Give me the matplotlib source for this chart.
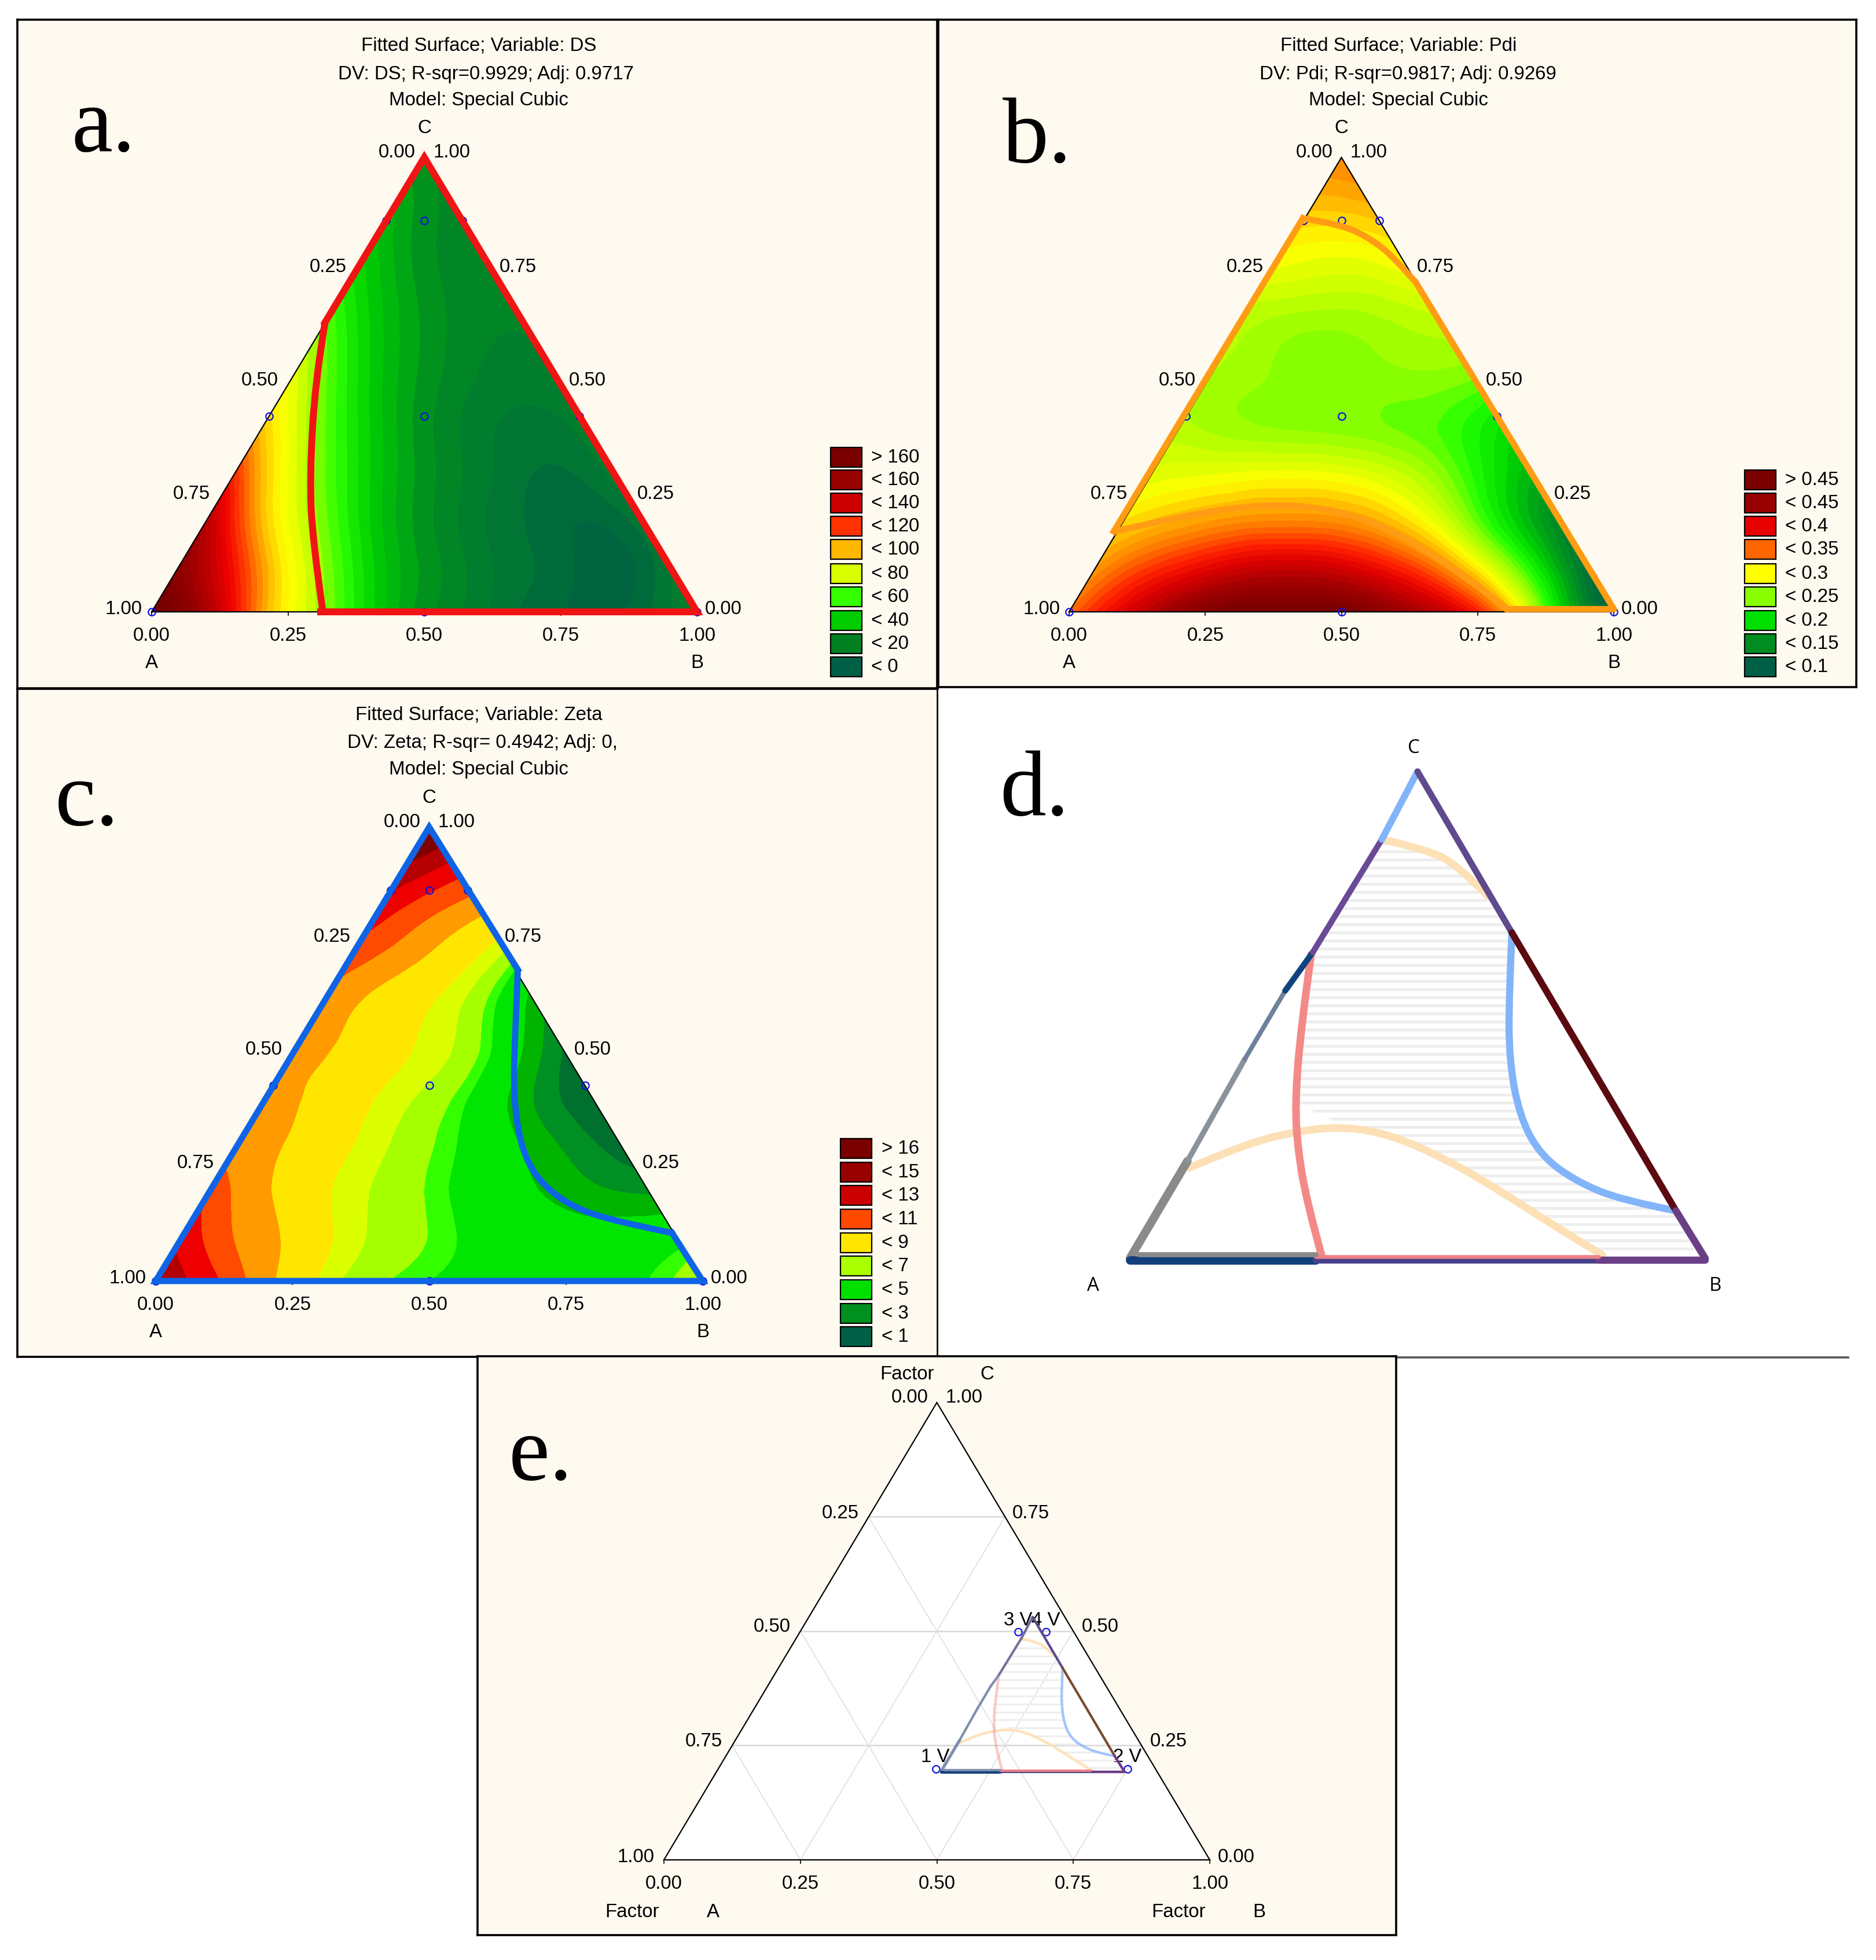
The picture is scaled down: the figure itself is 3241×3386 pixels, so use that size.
import matplotlib
matplotlib.use('Agg')
import matplotlib.pyplot as plt
import matplotlib.tri as mtri
import numpy as np
from matplotlib.colors import LinearSegmentedColormap, Normalize
from matplotlib.patches import PathPatch, Rectangle
from matplotlib.path import Path

W, H = 3241, 3386

# surface values, one row per c = 0, 0.1, ... 1.0
DS_ROWS = [
    [190, 160, 105, 70, 42, 22, 12, 3, -2, 3, 15],
    [172, 130, 85, 55, 31, 18, 8, 2, -3, 10],
    [155, 100, 66, 40, 22, 11, 4, 0, 8],
    [125, 80, 52, 30, 17, 8, 4, 12],
    [98, 65, 40, 22, 12, 8, 12],
    [80, 52, 30, 18, 12, 13],
    [66, 40, 24, 16, 15],
    [50, 30, 19, 16],
    [38, 22, 17],
    [29, 18],
    [20],
]
PDI_ROWS = [
    [.36, .42, .47, .50, .50, .50, .47, .43, .34, .195, .10],
    [.34, .38, .41, .43, .43, .41, .37, .30, .21, .12],
    [.31, .33, .345, .35, .345, .32, .27, .20, .14],
    [.285, .29, .295, .295, .285, .26, .215, .17],
    [.265, .255, .25, .247, .24, .225, .195],
    [.258, .25, .245, .245, .245, .235],
    [.262, .25, .248, .255, .26],
    [.275, .27, .27, .28],
    [.30, .295, .305],
    [.325, .33],
    [.35],
]
ZETA_ROWS = [
    [15.5, 13.5, 10.5, 7.8, 6.2, 5.5, 5, 4.8, 5, 5.5, 7],
    [14, 11.3, 9.6, 7.5, 6.4, 5.5, 4.8, 4.5, 4.6, 5],
    [12.5, 10.2, 8.4, 6.9, 5.9, 4.8, 4, 3.2, 2.8],
    [10.8, 9.8, 8.2, 6.7, 5.5, 4.2, 2.8, 1.5],
    [10.5, 9.6, 8, 6.6, 4.9, 2.8, 1],
    [10.4, 9.6, 8.2, 6.8, 4.5, 1.8],
    [11, 9.4, 8, 6, 3.3],
    [12, 10.4, 8.6, 6],
    [13.5, 11.5, 9.8],
    [15.5, 13.5],
    [18],
]

DESIGN_X = [0, 1, .5, .215, .5, .785, .43, .5, .57]
DESIGN_C = [0, 0, 0, .431, .431, .431, .861, .861, .861]

DS_LEGEND = ['> 160', '< 160', '< 140', '< 120', '< 100', '< 80', '< 60', '< 40', '< 20', '< 0']
PDI_LEGEND = ['> 0.45', '< 0.45', '< 0.4', '< 0.35', '< 0.3', '< 0.25', '< 0.2', '< 0.15', '< 0.1']
ZETA_LEGEND = ['> 16', '< 15', '< 13', '< 11', '< 9', '< 7', '< 5', '< 3', '< 1']

# desirability outlines, (X, c) in the triangle plane
DS_CURVE = [(.318, .637), (.30, .51), (.29, .30), (.295, .158), (.314, 0)]
PDI_TOP = [(.429, .866), (.499, .853), (.556, .820), (.599, .777), (.637, .724)]
PDI_LOW = [(.805, .006), (.735, .072), (.626, .158), (.518, .216), (.41, .237),
           (.301, .230), (.193, .206), (.082, .177)]
ZETA_CURVE = [(.944, .106), (.838, .132), (.762, .163), (.708, .211), (.676, .269),
              (.66, .345), (.654, .441), (.657, .537), (.662, .686)]

PINK = [(.315, .624), (.297, .472), (.287, .320), (.292, .222), (.308, .114), (.333, .007)]
BLUE = [(.664, .669), (.659, .544), (.659, .410), (.677, .293), (.713, .213),
        (.774, .159), (.856, .119), (.949, .098)]
ORANGE_TOP = [(.438, .861), (.518, .839), (.569, .808), (.622, .745)]
ORANGE_LOW = [(.103, .186), (.2, .235), (.292, .262), (.374, .271), (.456, .253),
              (.549, .204), (.641, .141), (.733, .07), (.821, .007)]

E_POINT_X = [.498, .849, .649, .70]
E_POINT_C = [.199, .199, .499, .499]
E_POINT_LABEL = ['1 V', '2 V', '3 V', '4 V']
E_LABEL_X = [.497, .849, .649, .70]
E_LABEL_C = [.225, .225, .524, .524]

# style
CREAM = '#fffaf0'
LABEL_PX = 33
FS = LABEL_PX * 0.72
FONT = 'Liberation Sans'
SERIF = 'Liberation Serif'

DS_ANCH = [(-10, '#005f46'), (0, '#00663e'), (10, '#007a30'), (20, '#008a20'), (30, '#00b010'),
           (40, '#00d000'), (55, '#2cff00'), (65, '#90ff00'), (75, '#e0ff00'), (85, '#ffff00'),
           (100, '#ffb700'), (120, '#ff3c00'), (135, '#f00000'), (150, '#c40000'),
           (170, '#900000'), (190, '#700000')]
PDI_ANCH = [(.08, '#005f46'), (.10, '#006046'), (.13, '#007a30'), (.16, '#00a018'), (.19, '#00d800'),
            (.22, '#20ff00'), (.245, '#88ff00'), (.27, '#c8ff00'), (.30, '#ffff00'), (.33, '#ffb000'),
            (.36, '#ff7000'), (.39, '#ff2000'), (.42, '#e00000'), (.46, '#a00000'), (.50, '#780000')]
ZETA_LEVELS = [1, 2, 3, 4, 5.5, 6, 7, 8, 10, 11.5, 13, 14.5, 16]
ZETA_COLORS = ['#006046', '#00702e', '#008f22', '#00b400', '#00e600', '#33ff00', '#a6ff00',
               '#dcff00', '#ffe600', '#ff9b00', '#ff4b00', '#ee0000', '#b40000', '#800000']
DS_SWATCH = ['#7a0000', '#990000', '#cc0000', '#ff3300', '#ffb700', '#d8ff00', '#33ff00',
             '#00cc00', '#008020', '#006046']
PDI_SWATCH = ['#7a0000', '#990000', '#e60000', '#ff6600', '#ffff00', '#88ff00', '#00e000',
              '#008c20', '#006046']
ZETA_SWATCH = ['#7a0000', '#990000', '#cc0000', '#ff4800', '#ffe600', '#aaff00', '#00e000',
               '#009020', '#006046']


def panel(rect, tri_box, face=CREAM):
    x0, y0, x1, y1 = rect
    ax_, bx, ty, ay = tri_box
    ax = fig.add_axes([x0 / W, 1 - y1 / H, (x1 - x0) / W, (y1 - y0) / H])
    ax.set_xlim((x0 - ax_) / (bx - ax_), (x1 - ax_) / (bx - ax_))
    ax.set_ylim((ay - y1) / (ay - ty), (ay - y0) / (ay - ty))
    ax.set_xticks([])
    ax.set_yticks([])
    ax.set_facecolor(face)
    for sp in ax.spines.values():
        sp.set_linewidth(2.6)
        sp.set_color('black')
    return ax


def lattice(rows):
    xs, cs, zs = [], [], []
    for k, row in enumerate(rows):
        for j, v in enumerate(row):
            xs.append(k / 20 + j / 10)
            cs.append(k / 10)
            zs.append(v)
    return mtri.Triangulation(xs, cs), np.array(zs, dtype=float)


def surface(ax, rows, **kw):
    tri, z = lattice(rows)
    fine, zf = mtri.UniformTriRefiner(tri).refine_field(z, subdiv=4)
    ax.tricontourf(fine, zf, zorder=1, extend='both', **kw)


def anchored_map(anchors):
    lo, hi = anchors[0][0], anchors[-1][0]
    cmap = LinearSegmentedColormap.from_list('m', [((v - lo) / (hi - lo), c) for v, c in anchors])
    return cmap, Normalize(lo, hi)


def smooth(ax, pts, color, lw, zorder=5, alpha=1.0, cap='round'):
    verts = [pts[0]]
    codes = [Path.MOVETO]
    for i in range(1, len(pts) - 1):
        mid = ((pts[i][0] + pts[i + 1][0]) / 2, (pts[i][1] + pts[i + 1][1]) / 2)
        if i == len(pts) - 2:
            mid = pts[-1]
        verts += [pts[i], mid]
        codes += [Path.CURVE3, Path.CURVE3]
    ax.add_patch(PathPatch(Path(verts, codes), fill=False, edgecolor=color, lw=lw, zorder=zorder,
                           alpha=alpha, capstyle=cap, joinstyle='round'))


def frame(ax, factor=False):
    ax.plot([0, 1, .5, 0], [0, 0, 1, 0], color='black', lw=1.6, zorder=3, solid_joinstyle='miter')
    names = ['0.00', '0.25', '0.50', '0.75', '1.00']
    for t, s in zip([0, .25, .5, .75, 1], names):
        ax.text(t, -.053, s, ha='center', va='center', fontsize=FS, family=FONT)
        ax.plot([t, t], [0, -.008], color='black', lw=1.2, zorder=3, clip_on=False)
    left = [(.323, .758, '0.25'), (.198, .509, '0.50'), (.073, .259, '0.75'), (-.051, .006, '1.00')]
    right = [(.672, .758, '0.75'), (.799, .509, '0.50'), (.924, .259, '0.25'), (1.048, .006, '0.00')]
    for x, c, s in left + right:
        ax.text(x, c, s, ha='center', va='center', fontsize=FS, family=FONT)
    ax.text(.45, 1.011, '0.00', ha='center', va='center', fontsize=FS, family=FONT)
    ax.text(.55, 1.011, '1.00', ha='center', va='center', fontsize=FS, family=FONT)
    if factor:
        for x, c, s in [(.445, 1.061, 'Factor'), (.592, 1.061, 'C'), (-.058, -.114, 'Factor'),
                        (.09, -.114, 'A'), (.943, -.114, 'Factor'), (1.09, -.114, 'B')]:
            ax.text(x, c, s, ha='center', va='center', fontsize=FS, family=FONT)
    else:
        ax.text(.5, 1.064, 'C', ha='center', va='center', fontsize=FS, family=FONT)
        ax.text(0, -.113, 'A', ha='center', va='center', fontsize=FS, family=FONT)
        ax.text(1, -.113, 'B', ha='center', va='center', fontsize=FS, family=FONT)


def design(ax):
    ax.plot(DESIGN_X, DESIGN_C, ls='none', marker='o', ms=9, mfc='none', mec='#1010e0', mew=1.6,
            zorder=4, clip_on=False)


def legend(x0, x_text, rows_y, labels, swatches):
    for y, s, c in zip(rows_y, labels, swatches):
        ov.add_patch(Rectangle((x0, y - 17), 54, 34, facecolor=c, edgecolor='black', lw=1.6))
        ov.text(x_text, y, s, ha='left', va='center', fontsize=FS, family=FONT)


def composite(ax, origin_x, origin_c, wx, wc, k, zorder=6):
    # the overlaid region of panel d, also pasted small into panel e
    small = k < 1

    def m(pts):
        return [(origin_x + p[0] * wx, origin_c + p[1] * wc) for p in pts]

    region = Path(m(ORANGE_TOP + [(.664, .669)] + BLUE + [(.985, .007), (.821, .007)]
                    + ORANGE_LOW[::-1][:6] + PINK[:3][::-1] + [(.315, .624), (.438, .861)]))
    clip = PathPatch(region, transform=ax.transData, fc='none', ec='none')
    ax.add_patch(clip)
    gap = 14 / 841 if not small else 0.052
    for c in np.arange(.02, .88, gap):
        ln, = ax.plot([origin_x, origin_x + wx], [origin_c + c * wc] * 2, color='#eeeeee',
                      lw=3.6 * k ** .5, zorder=zorder - 1)
        ln.set_clip_path(clip)

    lw = 10.5 * k
    fade = .6 if small else 1.0
    smooth(ax, m(ORANGE_LOW), '#fde0b6', lw * .9, zorder, alpha=max(fade, .9))
    smooth(ax, m(ORANGE_TOP), '#fde0b6', lw * .9, zorder, alpha=max(fade, .9))
    smooth(ax, m(BLUE), '#82b4fa', lw * .85, zorder + 1, alpha=fade + .15 if small else 1.0)
    smooth(ax, m(PINK), '#f48a88', lw * .9, zorder + 1, alpha=.45 if small else 1.0)
    segs = [
        ((0, 0), (.1, .2), '#8a8a8a', 1.0), ((.1, .2), (.2, .41), '#8b929c', .65),
        ((.2, .41), (.27, .55), '#6f829c', .55), ((.27, .55), (.318, .629), '#0f437e', .7),
        ((.318, .629), (.438, .861), '#6a4a96', .7), ((.438, .861), (.5, 1), '#82b4fa', .8),
        ((.5, 1), (.664, .669), '#5e4a8c', .75), ((.664, .669), (.949, .098), '#5a0a10', .8),
        ((.949, .098), (1, 0), '#6b3f86', .85), ((0, -.004), (.323, -.004), '#123f7c', 1.0),
        ((.323, -.004), (.815, -.004), '#46408a', .8), ((.815, -.004), (1, -.004), '#6b3f86', .85),
        ((.323, .004), (.815, .004), '#ee7f86', .45), ((.015, .008), (.323, .008), '#8a8a8a', .6),
    ]
    for a, b, col, f in segs:
        p = m([a, b])
        if small:
            # the pasted copy is washed out: brown right edge, blue-grey left edge
            col = {'#5a0a10': '#7a4a30', '#8a8a8a': '#7f8fae', '#8b929c': '#7f8fae',
                   '#6f829c': '#7f8fae', '#0f437e': '#7f8fae', '#6a4a96': '#7a7096',
                   '#82b4fa': '#6f6a96'}.get(col, col)
            f = max(f, .8)
        ax.plot([p[0][0], p[1][0]], [p[0][1], p[1][1]], color=col, lw=lw * f, zorder=zorder + 2,
                solid_capstyle='round')


fig = plt.figure(figsize=(W / 100 + 1e-6, H / 100 + 1e-6), dpi=100, facecolor='white')

# a. DS
ax_a = panel((30, 34, 1619, 1189), (262, 1204, 272, 1057))
cmap, norm = anchored_map(DS_ANCH)
surface(ax_a, DS_ROWS, levels=np.arange(-10, 195, 5), cmap=cmap, norm=norm)
frame(ax_a)
design(ax_a)
smooth(ax_a, DS_CURVE, '#f01414', 8.6)
ax_a.plot([.31, 1, .5, .318], [0, 0, 1, .637], color='#f01414', lw=8.6, zorder=5,
          solid_joinstyle='miter')

# b. Pdi
ax_b = panel((1621, 34, 3207, 1187), (1847, 2788, 272, 1057))
cmap, norm = anchored_map(PDI_ANCH)
surface(ax_b, PDI_ROWS, levels=np.arange(.08, .505, .01), cmap=cmap, norm=norm)
frame(ax_b)
design(ax_b)
smooth(ax_b, PDI_TOP, '#ff9c14', 7.8)
smooth(ax_b, PDI_LOW, '#ff9c14', 7.8)
ax_b.plot([.637, 1, .805], [.724, .006, .006], color='#ff9c14', lw=7.8, zorder=5)
ax_b.plot([.082, .429], [.177, .866], color='#ff9c14', lw=7.8, zorder=5)

# c. Zeta
ax_c = panel((30, 1190, 1620, 2344), (269, 1214, 1429, 2213))
surface(ax_c, ZETA_ROWS, levels=ZETA_LEVELS, colors=ZETA_COLORS)
frame(ax_c)
design(ax_c)
smooth(ax_c, ZETA_CURVE, '#0f64e6', 7.8)
ax_c.plot([.662, .5, 0, 1, .944], [.686, 1, 0, 0, .106], color='#0f64e6', lw=7.8, zorder=5,
          solid_joinstyle='miter')

# d. overlay of the three windows
ax_d = panel((1621, 1191, 3193, 2345), (1952, 2946, 1333, 2174), face='white')
for name, sp in ax_d.spines.items():
    sp.set_visible(name == 'bottom')
ax_d.spines['bottom'].set_color('#555555')
composite(ax_d, 0, 0, 1, 1, 1.0)

# e. position of the window in the full simplex
ax_e = panel((825, 2343, 2412, 3343), (1147, 2090, 2423, 3213))
ax_e.fill([0, 1, .5], [0, 0, 1], color='white', zorder=1)
for t in [.25, .5, .75]:
    ax_e.plot([t / 2, 1 - t / 2], [t, t], color='#d8d8d8', lw=1.8, zorder=2)
    ax_e.plot([t, t + (1 - t) / 2], [0, 1 - t], color='#dcdcdc', lw=1.1, zorder=2)
    ax_e.plot([1 - t, (1 - t) / 2], [0, 1 - t], color='#dcdcdc', lw=1.1, zorder=2)
frame(ax_e, factor=True)
ax_e.plot(E_POINT_X, E_POINT_C, ls='none', marker='o', ms=9, mfc='none', mec='#1010e0', mew=1.6,
          zorder=4)
for x, c, s in zip(E_LABEL_X, E_LABEL_C, E_POINT_LABEL):
    ax_e.text(x, c, s, ha='center', va='center', fontsize=FS, family=FONT, zorder=4)
composite(ax_e, .508, .194, .335, .337, .36)

# everything placed straight on the page
ov = fig.add_axes([0, 0, 1, 1])
ov.set_xlim(0, W)
ov.set_ylim(H, 0)
ov.axis('off')
ov.patch.set_alpha(0)

titles = [
    (827, 79, 'Fitted Surface; Variable: DS'), (839, 128, 'DV: DS; R-sqr=0.9929; Adj: 0.9717'),
    (827, 173, 'Model: Special Cubic'),
    (2416, 79, 'Fitted Surface; Variable: Pdi'), (2432, 128, 'DV: Pdi; R-sqr=0.9817; Adj: 0.9269'),
    (2416, 173, 'Model: Special Cubic'),
    (827, 1235, 'Fitted Surface; Variable: Zeta'), (833, 1283, 'DV: Zeta; R-sqr= 0.4942; Adj: 0,'),
    (827, 1329, 'Model: Special Cubic'),
]
for x, y, s in titles:
    ov.text(x, y, s, ha='center', va='center', fontsize=FS, family=FONT)
for x, y, s in [(123, 261, 'a.'), (1732, 280, 'b.'), (95, 1425, 'c.'), (1727, 1408, 'd.'), (879, 2556, 'e.')]:
    ov.text(x, y, s, ha='left', va='baseline', fontsize=115, family=SERIF)
for x, y, s in [(2442, 1292, 'C'), (1888, 2221, 'A'), (2963, 2221, 'B')]:
    ov.text(x, y, s, ha='center', va='center', fontsize=FS, family='Open Sans')

legend(1435, 1505, [790, 829, 869, 909, 949, 991, 1031, 1072, 1112, 1152], DS_LEGEND, DS_SWATCH)
legend(3014, 3084, [829, 869, 909, 949, 991, 1031, 1072, 1112, 1152], PDI_LEGEND, PDI_SWATCH)
legend(1452, 1523, [1984, 2025, 2065, 2106, 2147, 2187, 2228, 2269, 2309], ZETA_LEGEND, ZETA_SWATCH)

fig.savefig('out.png', dpi=100, facecolor='white')
